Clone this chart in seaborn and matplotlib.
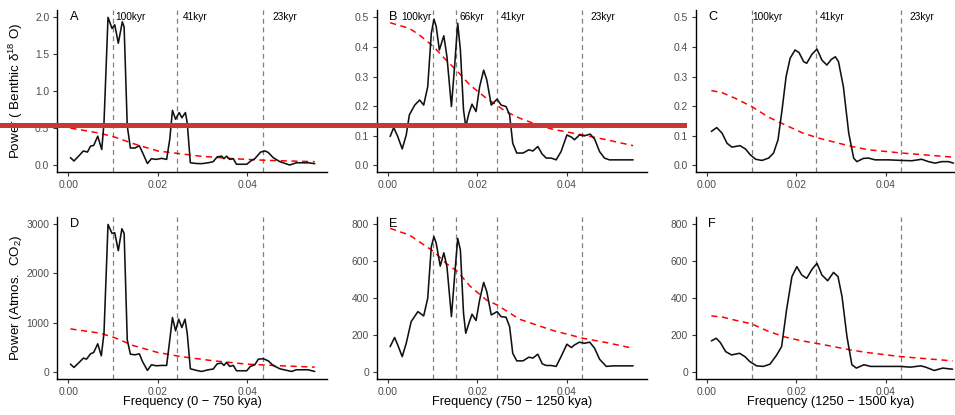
import matplotlib
matplotlib.use("Agg")
import matplotlib.pyplot as plt
import seaborn as sns
from matplotlib.patches import Rectangle

# ---------------- data ----------------
# Panel A: benthic d18O, 0-750 kya
a_freq = [0.0005,0.0013,0.0034,0.0043,0.0050,0.0057,0.0066,0.0075,0.0080,0.0089,0.0098,0.0104,0.0112,0.0121,0.0125,0.0132,0.0139,0.0149,0.0159,0.0166,0.0177,0.0186,0.0197,0.0209,0.0220,0.0227,0.0233,0.0240,0.0248,0.0254,0.0262,0.0266,0.0273,0.0287,0.0298,0.0313,0.0324,0.0333,0.0343,0.0348,0.0354,0.0361,0.0369,0.0376,0.0399,0.0408,0.0417,0.0430,0.0440,0.0447,0.0458,0.0473,0.0495,0.0510,0.0536,0.0551]
a_power = [0.10,0.054,0.19,0.175,0.256,0.265,0.39,0.21,0.57,2.0,1.85,1.9,1.65,1.94,1.87,0.53,0.23,0.23,0.26,0.17,0.02,0.085,0.076,0.09,0.076,0.35,0.74,0.62,0.71,0.64,0.71,0.57,0.03,0.02,0.018,0.03,0.045,0.11,0.12,0.085,0.12,0.076,0.085,0.01,0.01,0.054,0.085,0.175,0.19,0.17,0.10,0.045,0.0,0.03,0.03,0.018]
a_red_freq = [0.0005,0.0034,0.0071,0.0103,0.0145,0.0200,0.0250,0.0294,0.0369,0.0443,0.0551]
a_red = [0.50,0.47,0.43,0.38,0.29,0.19,0.153,0.12,0.085,0.063,0.045]

# Panel B: benthic d18O, 750-1250 kya
b_freq = [0.0005,0.0013,0.0022,0.0032,0.0041,0.0048,0.0060,0.0071,0.0080,0.0089,0.0097,0.0103,0.0108,0.0115,0.0125,0.0132,0.0142,0.0149,0.0156,0.0162,0.0169,0.0174,0.0181,0.0188,0.0197,0.0205,0.0214,0.0221,0.0231,0.0244,0.0253,0.0264,0.0272,0.0279,0.0288,0.0302,0.0315,0.0324,0.0335,0.0345,0.0354,0.0365,0.0376,0.0387,0.0400,0.0410,0.0417,0.0428,0.0439,0.0452,0.0462,0.0473,0.0484,0.0495,0.0548]
b_power = [0.098,0.128,0.098,0.056,0.103,0.171,0.204,0.221,0.204,0.266,0.446,0.494,0.469,0.39,0.438,0.367,0.199,0.334,0.48,0.39,0.188,0.131,0.176,0.207,0.182,0.266,0.322,0.289,0.204,0.224,0.204,0.199,0.171,0.075,0.042,0.042,0.053,0.049,0.064,0.038,0.025,0.025,0.019,0.047,0.103,0.096,0.087,0.103,0.1,0.106,0.089,0.047,0.025,0.019,0.019]
b_red_freq = [0.0005,0.0048,0.0071,0.0103,0.0130,0.0156,0.0183,0.0220,0.0264,0.0294,0.0335,0.0369,0.0436,0.0488,0.0548]
b_red = [0.482,0.463,0.44,0.40,0.356,0.317,0.272,0.227,0.182,0.16,0.137,0.122,0.103,0.087,0.067]

# Panel C: benthic d18O, 1250-1500 kya
c_freq = [0.0010,0.0022,0.0034,0.0045,0.0056,0.0074,0.0086,0.0097,0.0109,0.0123,0.0138,0.0149,0.0159,0.0168,0.0177,0.0186,0.0197,0.0206,0.0216,0.0223,0.0235,0.0246,0.0257,0.0268,0.0278,0.0287,0.0294,0.0305,0.0317,0.0328,0.0335,0.0350,0.0361,0.0376,0.0406,0.0436,0.0458,0.0480,0.0495,0.0510,0.0525,0.0540,0.0551]
c_power = [0.115,0.128,0.109,0.075,0.062,0.067,0.056,0.036,0.021,0.017,0.025,0.042,0.087,0.188,0.30,0.362,0.39,0.381,0.351,0.345,0.376,0.393,0.356,0.339,0.358,0.367,0.351,0.266,0.109,0.025,0.013,0.024,0.025,0.019,0.019,0.017,0.016,0.021,0.013,0.008,0.013,0.013,0.008]
c_red_freq = [0.0010,0.0034,0.0063,0.0100,0.0138,0.0175,0.0212,0.0246,0.0287,0.0324,0.0361,0.0436,0.0551]
c_red = [0.253,0.246,0.227,0.199,0.163,0.137,0.111,0.094,0.078,0.064,0.053,0.042,0.028]

# Panel D: atmospheric CO2, 0-750 kya
d_freq = [0.0005,0.0013,0.0034,0.0041,0.0050,0.0057,0.0066,0.0074,0.0080,0.0089,0.0098,0.0104,0.0112,0.0120,0.0125,0.0132,0.0139,0.0149,0.0159,0.0166,0.0177,0.0186,0.0197,0.0209,0.0220,0.0227,0.0233,0.0240,0.0247,0.0254,0.0261,0.0266,0.0273,0.0287,0.0298,0.0313,0.0324,0.0333,0.0343,0.0348,0.0354,0.0361,0.0369,0.0376,0.0399,0.0407,0.0417,0.0425,0.0436,0.0447,0.0458,0.0473,0.0499,0.0510,0.0536,0.0551]
d_power = [162,94,283,263,371,398,573,330,789,2993,2811,2825,2461,2906,2811,654,364,350,371,216,34,148,128,135,135,654,1106,836,1072,903,1072,789,67,34,13,47,61,169,182,135,196,115,135,27,27,115,148,263,270,229,135,67,13,47,47,13]
d_red_freq = [0.0005,0.0071,0.0103,0.0145,0.0200,0.0250,0.0324,0.0399,0.0473,0.0551]
d_red = [876,789,701,539,398,317,229,162,128,101]

# Panel E: atmospheric CO2, 750-1250 kya
e_freq = [0.0005,0.0015,0.0022,0.0032,0.0041,0.0052,0.0067,0.0080,0.0089,0.0097,0.0103,0.0108,0.0117,0.0125,0.0132,0.0142,0.0149,0.0156,0.0162,0.0169,0.0174,0.0181,0.0188,0.0197,0.0205,0.0214,0.0221,0.0231,0.0244,0.0253,0.0264,0.0272,0.0279,0.0288,0.0302,0.0315,0.0324,0.0335,0.0345,0.0354,0.0365,0.0376,0.0387,0.0400,0.0410,0.0417,0.0428,0.0439,0.0451,0.0462,0.0473,0.0488,0.0503,0.0548]
e_power = [138,187,147,84,156,273,327,304,399,678,732,696,573,645,570,300,516,723,660,318,210,264,313,279,390,485,435,309,327,300,297,246,102,61,61,81,76,97,45,36,36,31,84,151,133,147,162,156,162,129,70,31,34,34]
e_red_freq = [0.0005,0.0048,0.0103,0.0130,0.0156,0.0183,0.0220,0.0244,0.0294,0.0369,0.0436,0.0488,0.0548]
e_red = [777,741,651,588,543,466,390,363,286,225,183,160,129]

# Panel F: atmospheric CO2, 1250-1500 kya
f_freq = [0.0010,0.0021,0.0030,0.0042,0.0055,0.0073,0.0085,0.0096,0.0111,0.0126,0.0141,0.0156,0.0167,0.0178,0.0190,0.0201,0.0212,0.0223,0.0235,0.0246,0.0257,0.0270,0.0283,0.0293,0.0302,0.0313,0.0324,0.0334,0.0351,0.0366,0.0403,0.0433,0.0455,0.0478,0.0489,0.0508,0.0527,0.0549]
f_power = [169,183,160,111,93,102,84,57,34,31,43,93,138,336,516,570,525,507,556,588,525,494,539,516,408,192,40,22,40,31,31,31,27,34,27,9,22,16]
f_red_freq = [0.0010,0.0036,0.0066,0.0100,0.0133,0.0171,0.0208,0.0244,0.0283,0.0321,0.0358,0.0433,0.0549]
f_red = [304,297,279,261,225,192,171,156,138,120,106,84,61]

periods_3 = [100, 41, 23]
periods_4 = [100, 66, 41, 23]
period_labels_3 = ["100kyr", "41kyr", "23kyr"]
period_labels_4 = ["100kyr", "66kyr", "41kyr", "23kyr"]
panel_letters = ["A", "B", "C", "D", "E", "F"]
x_ticks = [0.00, 0.02, 0.04]
x_tick_labels = ["0.00", "0.02", "0.04"]
y_ticks_a = [0.0, 0.5, 1.0, 1.5, 2.0]
y_tick_labels_a = ["0.0", "0.5", "1.0", "1.5", "2.0"]
y_ticks_bc = [0.0, 0.1, 0.2, 0.3, 0.4, 0.5]
y_tick_labels_bc = ["0.0", "0.1", "0.2", "0.3", "0.4", "0.5"]
y_ticks_d = [0, 1000, 2000, 3000]
y_ticks_ef = [0, 200, 400, 600, 800]
x_titles = ["Frequency (0 \u2212 750 kya)", "Frequency (750 \u2212 1250 kya)",
            "Frequency (1250 \u2212 1500 kya)"]
y_title_top = "Power ( Benthic \u03b4$\\mathregular{^{18}}$ O)"
y_title_bottom = "Power (Atmos.  CO$\\mathregular{_2}$)"

# ---------------- style ----------------
sns.set_style("ticks")
plt.rcParams["font.family"] = ["Liberation Sans", "DejaVu Sans"]
plt.rcParams["mathtext.fontset"] = "custom"
plt.rcParams["mathtext.rm"] = "Liberation Sans"

W, H = 955, 415
fig = plt.figure(figsize=(W / 100, H / 100), dpi=100)
fig.patch.set_facecolor("white")

def fx(px):
    return px / W

def fy(py):
    return 1 - py / H

col_left = [57, 376.7, 695.7]
col_right = [327, 647, 955]
row_top = [10, 216.7]
row_bot = [172, 379]
px_per_unit = 4475.0

panels = [
    dict(freq=a_freq, power=a_power, rf=a_red_freq, rp=a_red, periods=periods_3,
         labels=period_labels_3, label_x=[0.0106, 0.0256, 0.0457],
         yt=y_ticks_a, ytl=y_tick_labels_a, ylim=(-0.095, 2.1), ytop=2.0),
    dict(freq=b_freq, power=b_power, rf=b_red_freq, rp=b_red, periods=periods_4,
         labels=period_labels_4, label_x=[0.0031, 0.0160, 0.0253, 0.0452],
         yt=y_ticks_bc, ytl=y_tick_labels_bc, ylim=(-0.022, 0.525), ytop=0.5),
    dict(freq=c_freq, power=c_power, rf=c_red_freq, rp=c_red, periods=periods_3,
         labels=period_labels_3, label_x=[0.0102, 0.0253, 0.0453],
         yt=y_ticks_bc, ytl=y_tick_labels_bc, ylim=(-0.022, 0.525), ytop=0.5),
    dict(freq=d_freq, power=d_power, rf=d_red_freq, rp=d_red, periods=periods_3,
         labels=None, label_x=None,
         yt=y_ticks_d, ytl=[str(v) for v in y_ticks_d], ylim=(-140, 3150), ytop=3000),
    dict(freq=e_freq, power=e_power, rf=e_red_freq, rp=e_red, periods=periods_4,
         labels=None, label_x=None,
         yt=y_ticks_ef, ytl=[str(v) for v in y_ticks_ef], ylim=(-37, 840), ytop=800),
    dict(freq=f_freq, power=f_power, rf=f_red_freq, rp=f_red, periods=periods_3,
         labels=None, label_x=None,
         yt=y_ticks_ef, ytl=[str(v) for v in y_ticks_ef], ylim=(-37, 840), ytop=800),
]

axes = []
for i, p in enumerate(panels):
    r, c = divmod(i, 3)
    left, right = col_left[c], col_right[c]
    top, bot = row_top[r], row_bot[r]
    ax = fig.add_axes([fx(left), fy(bot), fx(right - left), (bot - top) / H])
    ax.set_facecolor("white")
    x0 = -0.0025
    ax.set_xlim(x0, x0 + (right - left) / px_per_unit)
    ax.set_ylim(*p["ylim"])

    for per in p["periods"]:
        ax.axvline(1.0 / per, color="#808080", lw=0.9, ls=(0, (4, 3)), zorder=1)

    sns.lineplot(x=p["rf"], y=p["rp"], ax=ax, color="red", lw=1.1,
                 linestyle=(0, (4, 3)), estimator=None, sort=False, zorder=2)
    sns.lineplot(x=p["freq"], y=p["power"], ax=ax, color="#111111", lw=1.15,
                 estimator=None, sort=False, zorder=3)

    if p["labels"]:
        for lab, lx in zip(p["labels"], p["label_x"]):
            ax.text(lx, p["ytop"], lab, ha="left", va="center", fontsize=7.3,
                    color="black", zorder=4)
    ax.text(0.0003, p["ytop"], panel_letters[i], ha="left", va="center",
            fontsize=9.2, color="black", zorder=4)

    ax.set_xticks(x_ticks)
    ax.set_xticklabels(x_tick_labels)
    ax.set_yticks(p["yt"])
    ax.set_yticklabels(p["ytl"])
    ax.tick_params(axis="both", length=3, width=0.8, color="#333333",
                   labelsize=7.4, labelcolor="#4D4D4D", pad=2.5)
    ax.set_xlabel("")
    ax.set_ylabel("")
    sns.despine(ax=ax)
    for s in ("left", "bottom"):
        ax.spines[s].set_linewidth(1.0)
        ax.spines[s].set_color("black")
    axes.append(ax)

# axis titles
for c in range(3):
    cx = (col_left[c] + col_right[c]) / 2
    if c == 2:
        cx = (col_left[c] + 965) / 2
    fig.text(fx(cx), fy(402), x_titles[c], ha="center", va="center",
             fontsize=9.2, color="black")
fig.text(fx(16), fy((row_top[0] + row_bot[0]) / 2), y_title_top, rotation=90,
         ha="center", va="center", fontsize=9.6, color="black")
fig.text(fx(16), fy((row_top[1] + row_bot[1]) / 2), y_title_bottom, rotation=90,
         ha="center", va="center", fontsize=9.6, color="black")

# red highlight bar across the top row
fig.add_artist(Rectangle((0, fy(128.5)), fx(687), (128.5 - 123.5) / H,
                         transform=fig.transFigure, color="#C8363A", zorder=20,
                         linewidth=0))

fig.savefig("out.png", dpi=100, facecolor="white")
